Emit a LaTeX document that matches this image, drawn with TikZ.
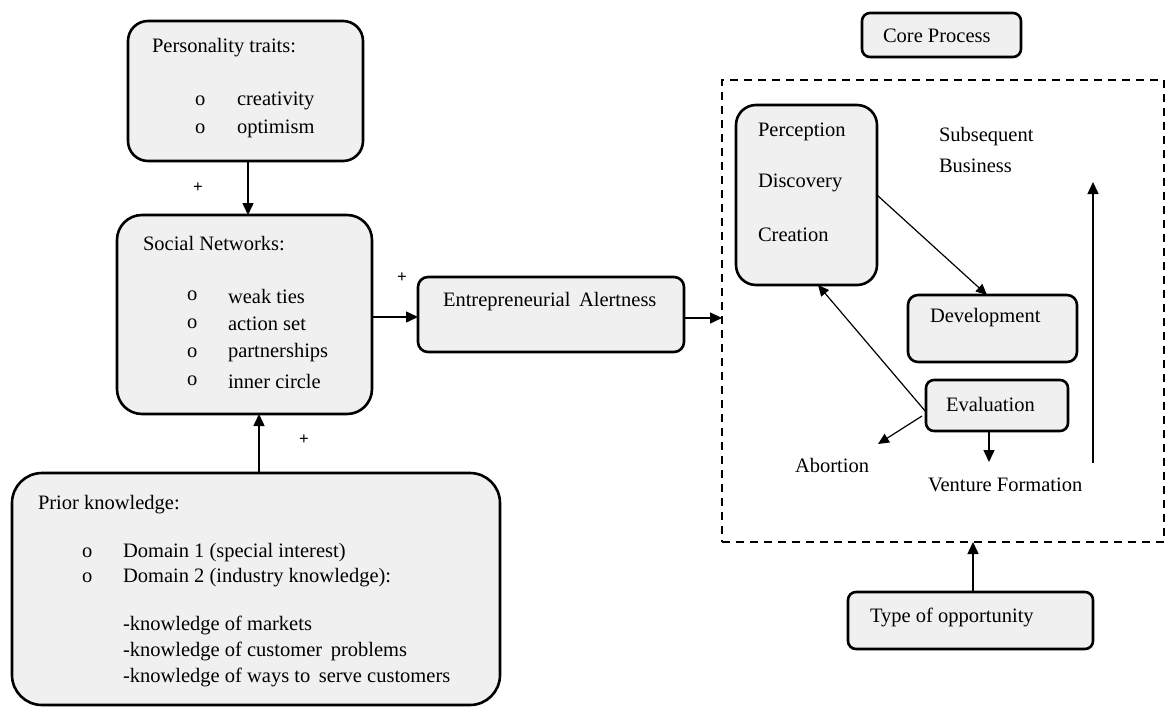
\documentclass[tikz,border=0pt]{standalone}
\usepackage{fontspec}
\setmainfont{Liberation Serif}
\usetikzlibrary{arrows.meta,calc}
\tikzset{
  box/.style={draw, line width=2.6pt, fill=boxgray, inner sep=0pt, outer sep=0pt},
  txt/.style={inner sep=0pt, outer sep=0pt, anchor=west, font=\fontsize{20.5}{24}\selectfont},
  ctxt/.style={inner sep=0pt, outer sep=0pt, font=\fontsize{20}{24}\selectfont},
  plus/.style={inner sep=0pt, outer sep=0pt, font=\fontsize{17}{17}\selectfont\bfseries},
  arr/.style={-{Triangle[length=12pt,width=11pt]}, line width=1.5pt},
  thinarr/.style={-{Triangle[length=11pt,width=10pt]}, line width=1.2pt},
}
\definecolor{boxgray}{HTML}{F0F0F0}
\begin{document}
\begin{tikzpicture}[x=1pt,y=-1pt]
\useasboundingbox (0,0) rectangle (1165,707);
% boxes
\node[box, rounded corners=20pt, minimum width=235pt, minimum height=140pt] (pers) at (245.5,91) {};
\node[box, rounded corners=25pt, minimum width=255pt, minimum height=199pt] (sn) at (244.5,314.5) {};
\node[box, rounded corners=10pt, minimum width=266pt, minimum height=75pt] (ea) at (551,314.5) {};
\node[box, rounded corners=30pt, minimum width=488pt, minimum height=232pt] (pk) at (256,589) {};
\node[box, rounded corners=8pt, minimum width=159pt, minimum height=44pt] (cp) at (941.5,35) {};
\node[draw, line width=1.8pt, dash pattern=on 8pt off 6pt, inner sep=0pt, outer sep=0pt, minimum width=442pt, minimum height=462pt] (core) at (943,311) {};
\node[box, rounded corners=20pt, minimum width=141pt, minimum height=180pt] (perc) at (806.5,195) {};
\node[box, rounded corners=10pt, minimum width=169pt, minimum height=67pt] (dev) at (992.5,328.5) {};
\node[box, rounded corners=8pt, minimum width=142pt, minimum height=51pt] (eval) at (997,405.5) {};
\node[box, rounded corners=8pt, minimum width=245pt, minimum height=57pt] (type) at (970.5,620.5) {};

% texts: personality
\node[txt] (t1) at (152,48) {Personality traits:};
\node[txt] (b1) at (195,101) {o};
\node[txt] (t2) at (237,101) {creativity};
\node[txt] (b2) at (195,129) {o};
\node[txt] (t3) at (237,129) {optimism};
% social networks
\node[txt] (t4) at (143,244) {Social Networks:};
\node[txt] (b3) at (187,296) {o};
\node[txt] (t5) at (228,296) {weak ties};
\node[txt] (b4) at (187,324) {o};
\node[txt] (t6) at (228,324) {action set};
\node[txt] (b5) at (187,353) {o};
\node[txt] (t7) at (228,353) {partnerships};
\node[txt] (b6) at (187,381) {o};
\node[txt] (t8) at (228,381) {inner circle};
% entrepreneurial alertness
\node[txt] (t9) at (443,302) {Entrepreneurial\, Alertness};
% prior knowledge
\node[txt] (t10) at (38,505) {Prior knowledge:};
\node[txt] (b7) at (82,553) {o};
\node[txt] (t11) at (123,553) {Domain 1 (special interest)};
\node[txt] (b8) at (82,578) {o};
\node[txt] (t12) at (123,578) {Domain 2 (industry knowledge):};
\node[txt] (t13) at (123,625) {-knowledge of markets};
\node[txt] (t14) at (123,651) {-knowledge of customer\, problems};
\node[txt] (t15) at (123,677) {-knowledge of ways to\, serve customers};
% plus signs
\node[plus] (p1) at (198,188) {+};
\node[plus] (p2) at (402,278) {+};
\node[plus] (p3) at (304,440) {+};
% right side
\node[txt] (t16) at (883,36) {Core Process};
\node[txt] (t17) at (758,132) {Perception};
\node[txt] (t18) at (758,183) {Discovery};
\node[txt] (t19) at (758,235) {Creation};
\node[txt] (t20) at (939,137) {Subsequent};
\node[txt] (t21) at (939,166) {Business};
\node[txt] (t22) at (930,318) {Development};
\node[txt] (t23) at (946,404) {Evaluation};
\node[txt] (t24) at (795,465) {Abortion};
\node[txt] (t25) at (928,485) {Venture Formation};
\node[txt] (t26) at (870,617) {Type of opportunity};

% connector end points
\coordinate (abS) at (922,416);
\coordinate (abE) at (878,444);
\coordinate (vfE) at (989,462);
\coordinate (upS) at (1093,463);
\coordinate (upE) at (1093,182);

% connectors
\draw[arr] (pers.south -| 248,0) -- (sn.north -| 248,0);
\draw[arr] (pk.north -| 259,0) -- (sn.south -| 259,0);
\draw[arr] (sn.east |- 0,317) -- (ea.west |- 0,317);
\draw[arr] (ea.east |- 0,318) -- (core.west |- 0,318);
\draw[arr] (type.north -| 973,0) -- (core.south -| 973,0);
\draw[thinarr] (perc.east) -- (dev.north -| 987,0);
\draw[thinarr] (eval.west |- 0,412) -- (perc.south -| 818,0);
\draw[thinarr] (abS) -- (abE);
\draw[arr] (eval.south -| 989,0) -- (vfE);
\draw[arr] (upS) -- (upE);
\end{tikzpicture}
\end{document}
